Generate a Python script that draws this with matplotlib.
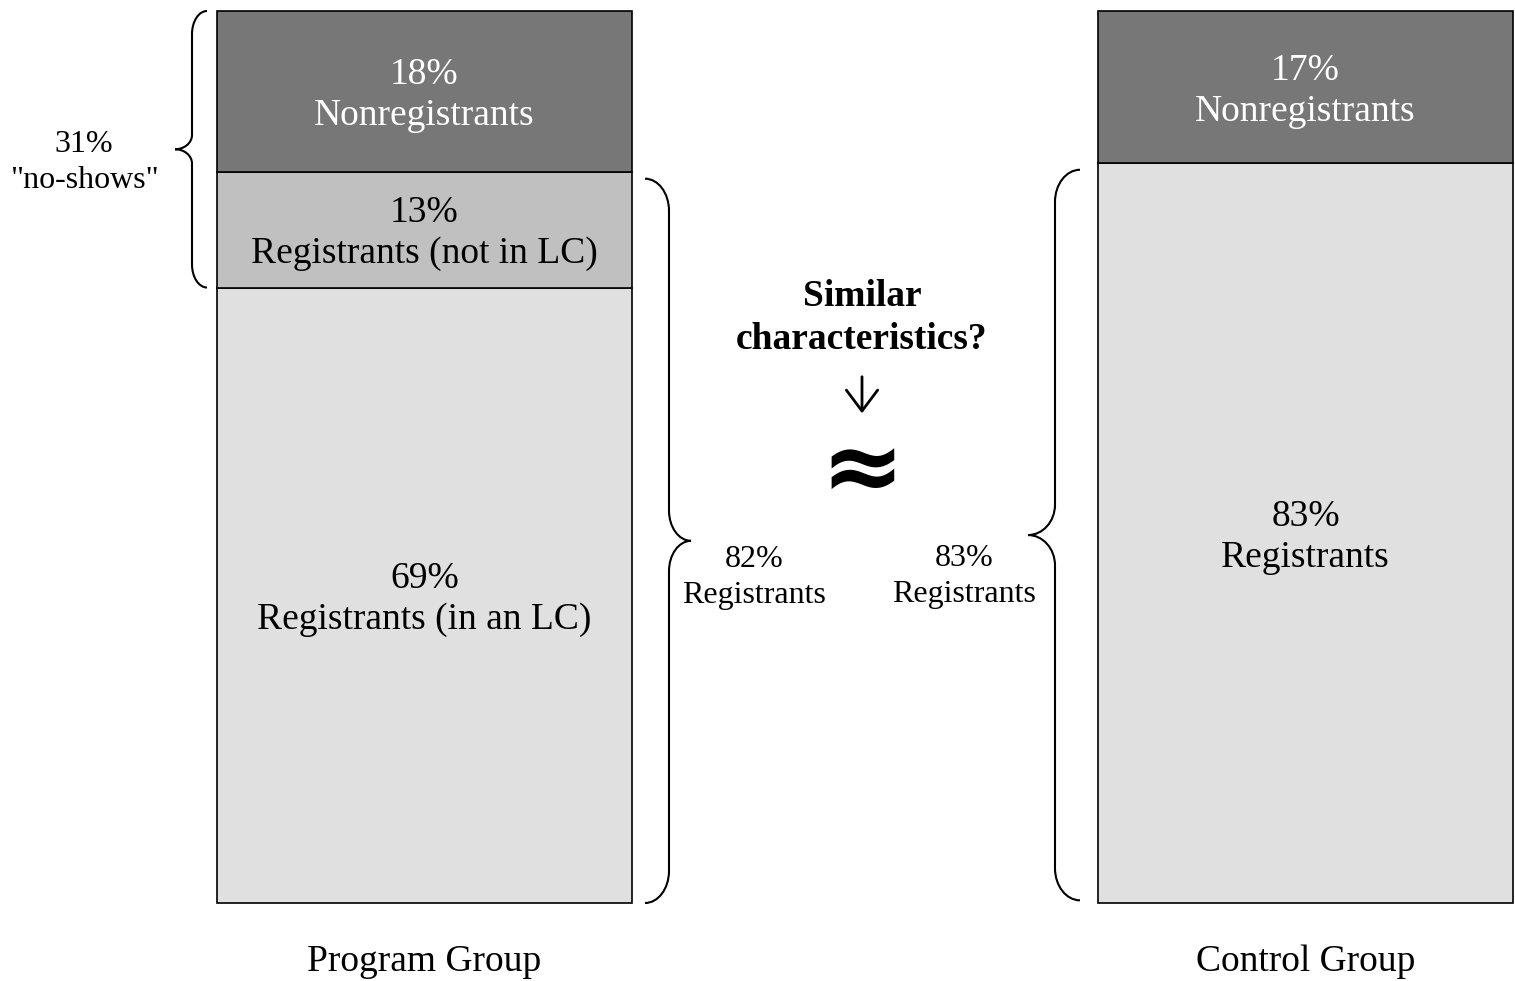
import numpy as np
import matplotlib
matplotlib.use("Agg")
import matplotlib.pyplot as plt
from matplotlib.path import Path
from matplotlib.patches import PathPatch

plt.rcParams['font.family'] = ['Liberation Serif', 'DejaVu Serif']

# data
groups = ['Program Group', 'Control Group']
program_pct = [69, 13, 18]
program_labels = ['Registrants (in an LC)', 'Registrants (not in LC)', 'Nonregistrants']
control_pct = [83, 17]
control_labels = ['Registrants', 'Nonregistrants']
noshow_pct = 31
program_reg_pct = 82
control_reg_pct = 83

program_colors = ['#e0e0e0', '#c0c0c0', '#777777']
program_text = ['black', 'black', 'white']
control_colors = ['#e0e0e0', '#777777']
control_text = ['black', 'white']

# layout: x in pixels, y in percent
bar_x = [424.5, 1305.5]
bar_w = 415
px_per_pct = 8.92


def brace(ax, x_end, x_mid, x_tip, y0, y1, h_end, h_tip, lw=1.5):
    """Curly brace between y0 (bottom) and y1 (top); tip points toward x_tip."""
    c = 0.5523
    ym = (y0 + y1) / 2
    d1 = x_mid - x_end
    d2 = x_tip - x_mid
    verts = [
        (x_end, y1),
        (x_end + c * d1, y1), (x_mid, y1 - h_end + c * h_end), (x_mid, y1 - h_end),
        (x_mid, ym + h_tip),
        (x_mid, ym + h_tip - c * h_tip), (x_tip - c * d2, ym), (x_tip, ym),
        (x_tip - c * d2, ym), (x_mid, ym - h_tip + c * h_tip), (x_mid, ym - h_tip),
        (x_mid, y0 + h_end),
        (x_mid, y0 + h_end - c * h_end), (x_end + c * d1, y0), (x_end, y0),
    ]
    codes = [Path.MOVETO,
             Path.CURVE4, Path.CURVE4, Path.CURVE4,
             Path.LINETO,
             Path.CURVE4, Path.CURVE4, Path.CURVE4,
             Path.CURVE4, Path.CURVE4, Path.CURVE4,
             Path.LINETO,
             Path.CURVE4, Path.CURVE4, Path.CURVE4]
    ax.add_patch(PathPatch(Path(verts, codes), fill=False, lw=lw, edgecolor='black',
                           capstyle='butt'))


fig = plt.figure(figsize=(15.15, 9.81), dpi=100)
ax = fig.add_axes([0, 0, 1, 1])
ax.set_xlim(0, 1515)
ax.set_ylim(-78 / px_per_pct, 100 + 11 / px_per_pct)
ax.axis('off')

# stacked bars
for x, pcts, labels, colors, tcols in [
        (bar_x[0], program_pct, program_labels, program_colors, program_text),
        (bar_x[1], control_pct, control_labels, control_colors, control_text)]:
    bottom = 0
    for p, lab, col, tc in zip(pcts, labels, colors, tcols):
        ax.bar(x, p, bottom=bottom, width=bar_w, color=col, edgecolor='black', linewidth=1.2)
        ax.text(x, bottom + p / 2 - 0.45, f"{p}%\n{lab}", ha='center', va='center',
                fontsize=27, linespacing=1.25, color=tc)
        bottom += p

# group labels
for x, g in zip(bar_x, groups):
    ax.text(x, -6.6, g, ha='center', va='center', fontsize=27)

# braces
brace(ax, 207, 192, 175, 100 - noshow_pct, 100, 2.6, 1.6)
ax.text(84, 83.0, f'{noshow_pct}%\n"no-shows"', ha='center', va='center', fontsize=23,
        linespacing=1.32)

brace(ax, 645, 669, 691, 0, program_reg_pct - 0.8, 3.6, 3.4)
ax.text(754, 36.45, f'{program_reg_pct}%\nRegistrants', ha='center', va='center', fontsize=23,
        linespacing=1.32)

brace(ax, 1080, 1055, 1028, 0.3, control_reg_pct - 0.8, 3.6, 3.4)
ax.text(964, 36.65, f'{control_reg_pct}%\nRegistrants', ha='center', va='center', fontsize=23,
        linespacing=1.32)

# comparison note
ax.text(862, 65.6, 'Similar\ncharacteristics?', ha='center', va='center', fontsize=27,
        fontweight='bold', linespacing=1.28)
ax.annotate('', xy=(862, 54.9), xytext=(862, 59.0),
            arrowprops=dict(arrowstyle='->,head_length=0.6,head_width=0.45', lw=2,
                            color='black', mutation_scale=25, shrinkA=0, shrinkB=0))
ax.text(862, 48.3, '\u2248', ha='center', va='center', fontsize=72, fontweight='bold',
        family='DejaVu Sans')

fig.savefig('out.png', dpi=100)
